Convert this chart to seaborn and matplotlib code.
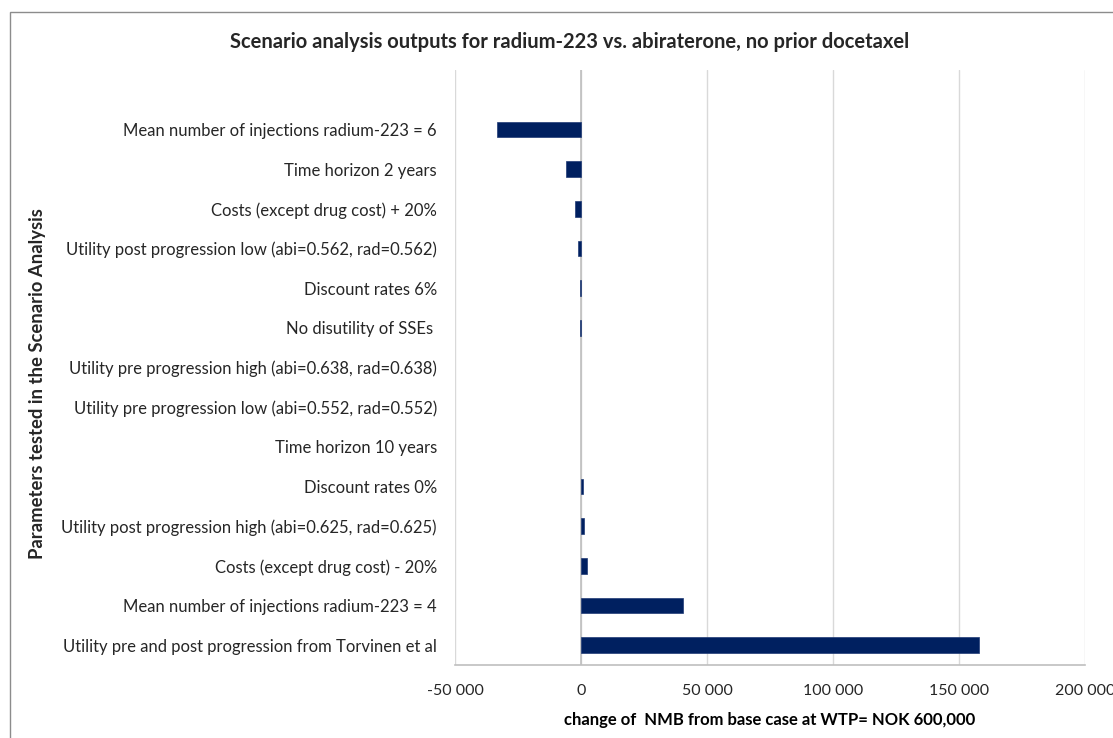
import matplotlib
matplotlib.use("Agg")
import matplotlib.pyplot as plt
from matplotlib.patches import Rectangle
import seaborn as sns
import pandas as pd

scenarios = [
    "Mean number of injections radium-223 = 6",
    "Time horizon 2 years",
    "Costs (except drug cost) + 20%",
    "Utility post progression low (abi=0.562, rad=0.562)",
    "Discount rates 6%",
    "No disutility of SSEs ",
    "Utility pre progression high (abi=0.638, rad=0.638)",
    "Utility pre progression low (abi=0.552, rad=0.552)",
    "Time horizon 10 years",
    "Discount rates 0%",
    "Utility post progression high (abi=0.625, rad=0.625)",
    "Costs (except drug cost) - 20%",
    "Mean number of injections radium-223 = 4",
    "Utility pre and post progression from Torvinen et al",
]
nmb_change = [-33200, -5900, -2400, -1000, -500, -500, 0, 0, 0,
              700, 1000, 2300, 40500, 158000]
x_ticks = [-50000, 0, 50000, 100000, 150000, 200000]
x_tick_labels = ["-50 000", "0", "50 000", "100 000", "150 000", "200 000"]

df = pd.DataFrame({"scenario": scenarios, "change": nmb_change})

sns.set_theme(style="white")
plt.rcParams["font.family"] = ["Lato", "DejaVu Sans"]

fig = plt.figure(figsize=(11.13, 7.38), dpi=100)
ax = fig.add_axes([455 / 1113, 1 - 665 / 738, (1085 - 455) / 1113, (665 - 70) / 738])

# chart frame
fig.patches.append(Rectangle((10 / 1113, -0.05), 1.2, 1 - 12 / 738 + 0.05,
                             transform=fig.transFigure, fill=False,
                             edgecolor="#8c8c8c", linewidth=1.0, zorder=0))

sns.barplot(data=df, x="change", y="scenario", orient="h", color="#002060",
            width=0.4, saturation=1, edgecolor="#1f3a75", linewidth=0.5,
            ax=ax, zorder=3)
# zero-valued scenarios draw no visible mark
for patch, val in zip(ax.patches, nmb_change):
    if val == 0:
        patch.set_visible(False)

# one empty category slot above the first scenario
ax.set_ylim(len(scenarios) - 0.5, -1.5)
ax.set_xlim(-50000, 200000)
ax.set_xticks(x_ticks)
ax.set_xticklabels(x_tick_labels, fontsize=11.5, color="#262626")
ax.tick_params(axis="x", direction="out", length=6, width=1, color="#a6a6a6", pad=8)
ax.tick_params(axis="y", length=0, pad=13, labelsize=12.0, labelcolor="#262626")
for lab in ax.get_yticklabels():
    lab.set_horizontalalignment("right")

ax.grid(axis="x", color="#d9d9d9", linewidth=1, zorder=0)
ax.grid(axis="y", visible=False)
ax.axvline(0, color="#bfbfbf", linewidth=1.2, zorder=2)
for side in ["top", "right", "left"]:
    ax.spines[side].set_visible(False)
ax.spines["bottom"].set_color("#bfbfbf")
ax.spines["bottom"].set_linewidth(1.2)

ax.set_xlabel("change of  NMB from base case at WTP= NOK 600,000",
              fontsize=12, fontweight="bold", labelpad=10, color="#000000")
ax.set_ylabel("")
fig.text(38 / 1113, 1 - 384 / 738, "Parameters tested in the Scenario Analysis",
         rotation=90, ha="center", va="center", fontsize=13.3, fontweight="bold")
fig.text(570 / 1113, 1 - 42 / 738,
         "Scenario analysis outputs for radium-223 vs. abiraterone, no prior docetaxel",
         ha="center", va="center", fontsize=14.5, fontweight="bold")

fig.savefig("out.png", dpi=100)
